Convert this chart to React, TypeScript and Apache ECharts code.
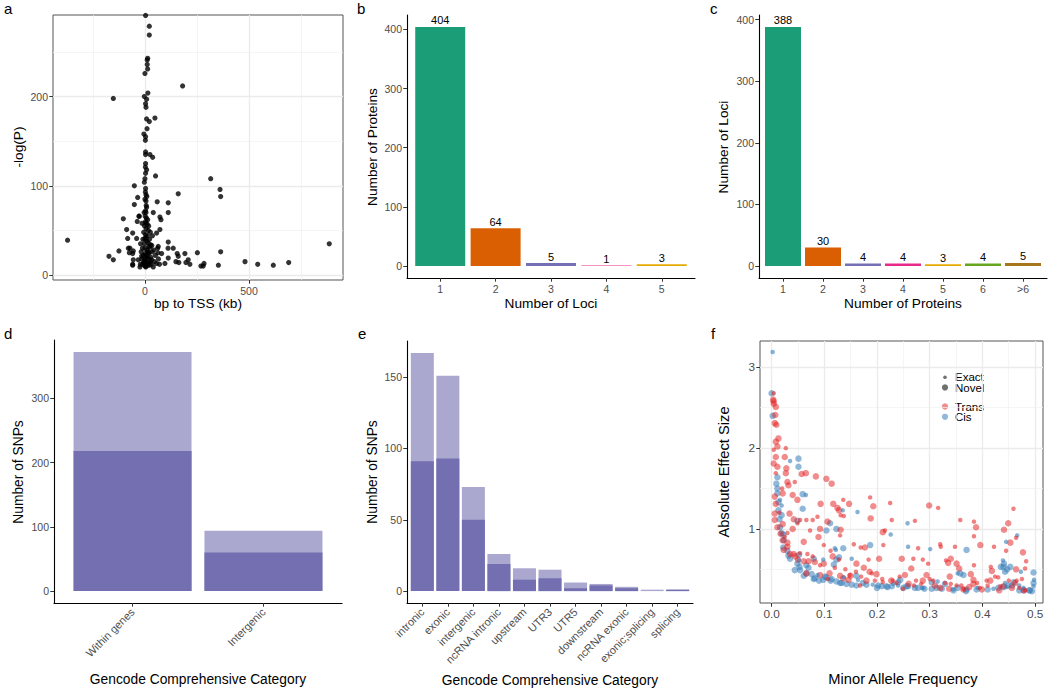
import React, { useEffect, useRef } from 'react';
import * as echarts from 'echarts';

const FONT = '"Liberation Sans", Arial, Helvetica, sans-serif';

// ---------- Panel a: distance to TSS (kb) vs -log(P) ----------
const tssPoints: number[][] = [
  [3, 291], [21, 279], [21, 269], [13, 243], [11, 241], [11, 236], [13, 231], [0, 226], [181, 212], [-152, 198],
  [14, 204], [-3, 200], [8, 197], [3, 192], [5, 188], [8, 175], [48, 176], [21, 172], [10, 164], [-5, 158],
  [3, 155], [2, 151], [3, 138], [3, 135], [24, 135], [37, 132], [3, 125], [2, 121], [8, 118], [3, 114],
  [51, 111], [0, 108], [-3, 104], [316, 108], [-51, 100], [3, 97], [361, 96], [364, 88], [160, 91], [5, 90],
  [-35, 87], [-51, 79], [59, 82], [112, 81], [112, 70], [5, 83], [8, 76], [40, 70], [5, 70], [-27, 66],
  [-104, 63], [77, 62], [3, 60], [-37, 60], [-88, 51], [72, 51], [16, 50], [-59, 47], [56, 47], [-40, 41],
  [-83, 41], [3, 42], [-372, 39], [112, 37], [886, 35], [-21, 35], [27, 34], [-125, 27], [-80, 30], [136, 30],
  [111, 30], [61, 30], [364, 26], [252, 25], [192, 24], [-75, 25], [-56, 27], [-173, 21], [-152, 17], [-56, 17],
  [-59, 12], [160, 21], [149, 15], [208, 17], [216, 12], [284, 13], [269, 10], [353, 11], [481, 15], [542, 12],
  [617, 11], [691, 14], [80, 24], [112, 19], [96, 13], [56, 13], [32, 17], [21, 11], [-8, 13], [-16, 21],
  [16, 24], [-32, 17], [-24, 9], [5, 10], [40, 9], [-29, 66], [-72, 30], [-59, 24], [-59, 11], [72, 65],
  [64, 32], [163, 14], [197, 14], [280, 10], [155, 24],
  [-10, 12], [-5, 15], [0, 10], [2, 18], [5, 22], [8, 14], [10, 28], [12, 11], [15, 19], [18, 32],
  [20, 25], [-3, 35], [0, 40], [3, 45], [6, 52], [9, 38], [-6, 48], [-12, 30], [-8, 22], [25, 15],
  [28, 20], [30, 12], [35, 26], [4, 58], [7, 64], [1, 66], [-2, 55], [12, 44], [15, 36], [-15, 18],
  [22, 40], [26, 48], [3, 72], [6, 78], [0, 30], [1, 24], [-1, 16], [2, 12], [4, 9], [10, 20],
  [14, 26], [17, 14], [-18, 26], [-22, 12], [45, 15], [50, 22], [42, 28], [33, 33], [11, 57], [13, 62],
  [0, 85], [2, 93], [-4, 70], [9, 88], [36, 44], [18, 55], [-10, 40], [-14, 58], [24, 31], [65, 18],
  [70, 12], [62, 25],
];
const tssXTicks = [0, 500];
const tssYTicks = [0, 100, 200];

// ---------- Panel b: proteins by number of loci ----------
const lociCategories = ['1', '2', '3', '4', '5'];
const proteinsPerLoci = [404, 64, 5, 1, 3];

// ---------- Panel c: loci by number of proteins ----------
const proteinCategories = ['1', '2', '3', '4', '5', '6', '>6'];
const lociPerProteins = [388, 30, 4, 4, 3, 4, 5];

const barTicks = [0, 100, 200, 300, 400];
const dark2 = ['#1B9E77', '#D95F02', '#7570B3', '#E7298A', '#E6AB02', '#66A61E', '#A6761D'];

// ---------- Panel d: SNPs by broad category ----------
const broadCategories = ['Within genes', 'Intergenic'];
const broadTotal = [372, 94];
const broadDark = [218, 60];
const broadTicks = [0, 100, 200, 300];

// ---------- Panel e: SNPs by detailed category ----------
const detailCategories = ['intronic', 'exonic', 'intergenic', 'ncRNA intronic', 'upstream', 'UTR3', 'UTR5', 'downstream', 'ncRNA exonic', 'exonic;splicing', 'splicing'];
const detailTotal = [167, 151, 73, 26, 16, 15, 6, 5, 3, 1, 1];
const detailDark = [91, 93, 50, 19, 8, 9, 2, 4, 2, 0, 1];
const detailTicks = [0, 50, 100, 150];

// ---------- Panel f: MAF vs absolute effect size ----------
const cisExact: number[][] = [
  [0.002, 3.19], [0.035, 1.84], [0.065, 1.42], [0.135, 1.23], [0.163, 1.21], [0.258, 1.07], [0.226, 0.93], [0.466, 0.92],
  [0.445, 0.84], [0.259, 0.78], [0.301, 0.75], [0.152, 0.63], [0.439, 0.61], [0.473, 0.47], [0.497, 0.29], [0.016, 1.36],
  [0.019, 1.29], [0.052, 0.61], [0.137, 0.40], [0.192, 0.31], [0.391, 0.27], [0.353, 0.45], [0.315, 0.35], [0.12, 0.76],
  [0.122, 0.74], [0.098, 0.62], [0.087, 0.43], [0.24, 0.30], [0.285, 0.27], [0.443, 0.33], [0.446, 0.28], [0.47, 0.30],
  [0.164, 0.37], [0.231, 0.32], [0.288, 0.27], [0.345, 0.25], [0.421, 0.26], [0.478, 0.27], [0.498, 0.37],
];
const cisNovel: number[][] = [
  [0.0, 2.68], [0.002, 2.40], [0.051, 1.87], [0.051, 1.77], [0.011, 1.64], [0.009, 1.56], [0.011, 1.50], [0.059, 1.43],
  [0.013, 1.33], [0.059, 1.25], [0.019, 1.17], [0.049, 1.10], [0.111, 1.07], [0.104, 0.98], [0.123, 1.00], [0.187, 0.80],
  [0.022, 0.93], [0.023, 0.86], [0.022, 0.77], [0.030, 0.73], [0.032, 0.67], [0.035, 0.63], [0.049, 0.57], [0.053, 0.53],
  [0.066, 0.55], [0.080, 0.63], [0.136, 0.76], [0.370, 0.74], [0.435, 0.53], [0.453, 0.53], [0.447, 0.50], [0.441, 0.57],
  [0.443, 0.47], [0.052, 0.68], [0.054, 0.49], [0.011, 1.44], [0.013, 1.23], [0.015, 1.12], [0.016, 1.02], [0.019, 0.95],
  [0.098, 0.37], [0.104, 0.40], [0.112, 0.36], [0.114, 0.38], [0.123, 0.35], [0.133, 0.33], [0.142, 0.32], [0.152, 0.31],
  [0.161, 0.30], [0.161, 0.42], [0.173, 0.33], [0.209, 0.29], [0.228, 0.29], [0.244, 0.37], [0.259, 0.29], [0.278, 0.27],
  [0.304, 0.34], [0.313, 0.27], [0.329, 0.32], [0.353, 0.27], [0.369, 0.23], [0.440, 0.28], [0.456, 0.30], [0.470, 0.24],
  [0.489, 0.24], [0.494, 0.23], [0.497, 0.33], [0.076, 0.44], [0.101, 0.41], [0.118, 0.56], [0.123, 0.62], [0.128, 0.65],
  [0.061, 0.42], [0.044, 0.49], [0.08, 0.38], [0.09, 0.36], [0.07, 0.52], [0.20, 0.27], [0.22, 0.28], [0.29, 0.26],
  [0.345, 0.24], [0.41, 0.25], [0.43, 0.27], [0.478, 0.24], [0.25, 0.27],
  [0.066, 0.45], [0.082, 0.39], [0.130, 0.33], [0.180, 0.31], [0.202, 0.30], [0.218, 0.29], [0.240, 0.34], [0.256, 0.29],
  [0.272, 0.27], [0.304, 0.26], [0.323, 0.26], [0.358, 0.45], [0.364, 0.43], [0.370, 0.25], [0.389, 0.25], [0.440, 0.53],
  [0.449, 0.30], [0.459, 0.34], [0.497, 0.46], [0.490, 0.24],
];
const transNovel: number[][] = [
  [0.003, 2.60], [0.004, 2.58], [0.004, 2.55], [0.008, 2.51], [0.007, 2.41], [0.006, 2.31], [0.009, 2.29], [0.013, 2.12],
  [0.008, 2.08], [0.011, 2.02], [0.008, 1.89], [0.025, 1.89], [0.004, 1.81], [0.011, 1.77], [0.028, 1.75], [0.027, 1.69],
  [0.057, 1.68], [0.065, 1.69], [0.084, 1.65], [0.104, 1.62], [0.114, 1.56], [0.030, 1.58], [0.032, 1.54], [0.021, 1.44],
  [0.040, 1.42], [0.006, 1.40], [0.049, 1.36], [0.008, 1.31], [0.093, 1.31], [0.117, 1.31], [0.147, 1.31], [0.193, 1.28],
  [0.299, 1.29], [0.125, 1.26], [0.128, 1.23], [0.006, 1.19], [0.034, 1.19], [0.006, 1.11], [0.042, 1.12], [0.188, 1.13],
  [0.021, 1.06], [0.106, 1.09], [0.449, 1.07], [0.011, 1.02], [0.040, 1.00], [0.092, 1.00], [0.131, 0.99], [0.211, 0.96],
  [0.388, 1.02], [0.441, 0.99], [0.017, 0.94], [0.021, 0.86], [0.030, 0.83], [0.061, 0.84], [0.089, 0.90], [0.453, 0.83],
  [0.035, 0.69], [0.042, 0.69], [0.061, 0.60], [0.082, 0.59], [0.099, 0.57], [0.116, 0.66], [0.161, 0.57], [0.175, 0.52],
  [0.204, 0.63], [0.177, 0.77], [0.247, 0.63], [0.335, 0.58], [0.340, 0.63], [0.351, 0.57], [0.356, 0.51], [0.378, 0.44],
  [0.396, 0.80], [0.477, 0.71], [0.464, 0.50], [0.066, 0.45], [0.092, 0.43], [0.146, 0.37], [0.199, 0.44], [0.253, 0.43],
  [0.287, 0.36], [0.337, 0.26], [0.364, 0.25], [0.375, 0.28], [0.383, 0.37], [0.399, 0.25], [0.415, 0.36], [0.432, 0.24],
  [0.462, 0.33], [0.479, 0.24], [0.023, 0.74], [0.03, 0.78], [0.045, 0.66], [0.05, 0.62], [0.07, 0.60], [0.11, 0.45],
  [0.13, 0.42], [0.15, 0.42], [0.18, 0.36], [0.26, 0.32], [0.31, 0.30], [0.44, 0.29],
  [0.136, 0.39], [0.186, 0.47], [0.227, 0.36], [0.265, 0.51], [0.294, 0.43], [0.320, 0.27], [0.338, 0.41], [0.383, 0.32],
  [0.418, 0.48], [0.456, 0.27],
];
const transExact: number[][] = [
  [0.004, 2.68], [0.027, 2.00], [0.004, 1.98], [0.008, 1.69], [0.044, 1.58], [0.136, 1.36], [0.187, 1.39], [0.225, 1.32],
  [0.316, 1.26], [0.459, 1.25], [0.131, 1.17], [0.137, 1.16], [0.054, 1.11], [0.066, 1.11], [0.078, 1.11], [0.087, 1.15],
  [0.049, 1.07], [0.228, 1.11], [0.272, 1.10], [0.358, 1.11], [0.384, 1.09], [0.073, 0.98], [0.130, 0.92], [0.215, 0.98],
  [0.384, 0.91], [0.464, 0.89], [0.099, 0.80], [0.156, 0.81], [0.169, 0.77], [0.212, 0.80], [0.278, 0.76], [0.320, 0.81],
  [0.321, 0.78], [0.348, 0.78], [0.422, 0.78], [0.445, 0.73], [0.483, 0.60], [0.078, 0.66], [0.112, 0.73], [0.128, 0.62],
  [0.184, 0.62], [0.269, 0.63], [0.287, 0.62], [0.297, 0.57], [0.331, 0.61], [0.384, 0.55], [0.416, 0.53], [0.481, 0.51],
  [0.475, 0.38], [0.237, 0.33], [0.168, 0.30], [0.107, 0.38], [0.054, 0.70], [0.068, 0.69], [0.092, 0.55], [0.12, 0.52],
  [0.14, 0.50], [0.16, 0.47], [0.19, 0.45], [0.21, 0.38], [0.23, 0.36], [0.27, 0.30], [0.30, 0.38], [0.34, 0.32],
  [0.36, 0.30], [0.39, 0.33], [0.41, 0.30], [0.43, 0.40], [0.45, 0.36], [0.47, 0.27], [0.025, 0.90], [0.03, 0.95],
  [0.015, 1.20], [0.02, 1.50],
  [0.148, 0.43], [0.170, 0.41], [0.196, 0.36], [0.211, 0.34], [0.243, 0.41], [0.249, 0.26], [0.274, 0.36], [0.284, 0.32],
  [0.307, 0.36], [0.329, 0.33], [0.351, 0.30], [0.364, 0.26], [0.395, 0.27], [0.408, 0.36], [0.424, 0.41], [0.434, 0.29],
  [0.465, 0.36], [0.481, 0.24],
];
const mafTicks = [0, 0.1, 0.2, 0.3, 0.4, 0.5];
const mafMinor = [0.05, 0.15, 0.25, 0.35, 0.45];
const esTicks = [1, 2, 3];
const esMinor = [0.5, 1.5, 2.5];

const TICK_COLOR = '#333333';
const LABEL_COLOR = '#4D4D4D';

function axis(gi: number, min: number, max: number, ticks: number[], fmt: (v: number) => string, o: any = {}) {
  return {
    type: 'value', gridIndex: gi, min, max,
    axisLine: { show: o.line !== false, onZero: false, lineStyle: { color: '#000', width: 1.1 } },
    axisTick: { show: true, length: 3.7, lineStyle: { color: TICK_COLOR, width: 1 }, customValues: ticks },
    axisLabel: {
      customValues: ticks, formatter: fmt, color: LABEL_COLOR, fontSize: o.fs ?? 10.5,
      fontFamily: FONT, margin: o.margin ?? 5, rotate: o.rotate ?? 0,
    },
    splitLine: { show: false },
  };
}

function gridLines(gi: number, xMajor: number[], xMinor: number[], yMajor: number[], yMinor: number[]) {
  const major = { color: '#EBEBEB', width: 1.3, type: 'solid' };
  const minor = { color: '#F0F0F0', width: 0.7, type: 'solid' };
  const data: any[] = [];
  xMinor.forEach((v) => data.push({ xAxis: v, lineStyle: minor }));
  yMinor.forEach((v) => data.push({ yAxis: v, lineStyle: minor }));
  xMajor.forEach((v) => data.push({ xAxis: v, lineStyle: major }));
  yMajor.forEach((v) => data.push({ yAxis: v, lineStyle: major }));
  return {
    type: 'scatter', xAxisIndex: gi, yAxisIndex: gi, data: [], silent: true, z: 1,
    markLine: { silent: true, z: 1, symbol: ['none', 'none'], label: { show: false }, animation: false, data },
  };
}

function text(t: string, x: number, y: number, size: number, o: any = {}) {
  return {
    type: 'text', x, y, rotation: o.rot ?? 0, silent: true,
    style: {
      text: t, x: 0, y: 0, fill: o.color ?? '#000', fontSize: size, fontFamily: FONT,
      align: o.align ?? 'center', verticalAlign: 'middle',
    },
  };
}

export default function App() {
  const ref = useRef<HTMLDivElement>(null);
  useEffect(() => {
    document.body.style.margin = '0';
    if (!ref.current) return;
    const chart = echarts.init(ref.current, undefined, { renderer: 'svg' });
    const catFmt = (cats: string[]) => (v: number) => cats[Math.round(v) - 1] ?? '';
    const numFmt = (v: number) => String(v);
    const barLabel = {
      show: true, position: 'top', distance: 1, color: '#000', fontSize: 11, fontFamily: FONT,
      formatter: (p: any) => String(p.value[1]),
    };
    const option: any = {
      animation: false,
      backgroundColor: '#fff',
      grid: [
        { left: 53, top: 15, width: 290, height: 265, show: true, borderColor: '#555', borderWidth: 1, backgroundColor: 'transparent' },
        { left: 407, top: 15, width: 288, height: 263 },
        { left: 759, top: 15, width: 288, height: 263 },
        { left: 54, top: 340, width: 288, height: 263 },
        { left: 407, top: 341, width: 286, height: 262 },
        { left: 760, top: 341, width: 283, height: 262, show: true, borderColor: '#555', borderWidth: 1, backgroundColor: 'transparent' },
      ],
      xAxis: [
        axis(0, -442, 952, tssXTicks, numFmt, { line: false }),
        axis(1, 0.4, 5.6, lociCategories.map((_, i) => i + 1), catFmt(lociCategories)),
        axis(2, 0.4, 7.6, proteinCategories.map((_, i) => i + 1), catFmt(proteinCategories)),
        axis(3, 0.4, 2.6, broadCategories.map((_, i) => i + 1), catFmt(broadCategories), { rotate: 45, margin: 7, fs: 11 }),
        axis(4, 0.4, 11.6, detailCategories.map((_, i) => i + 1), catFmt(detailCategories), { rotate: 45, margin: 7, fs: 11 }),
        axis(5, -0.022, 0.515, mafTicks, (v: number) => v.toFixed(1), { line: false, fs: 11.8 }),
      ],
      yAxis: [
        axis(0, -5.6, 291.5, tssYTicks, numFmt, { line: false }),
        axis(1, -20.2, 424.2, barTicks, numFmt),
        axis(2, -19.4, 407.4, barTicks, numFmt),
        axis(3, -18.6, 390.6, broadTicks, numFmt),
        axis(4, -8.35, 175.35, detailTicks, numFmt),
        axis(5, 0.083, 3.326, esTicks, numFmt, { line: false, fs: 11.8 }),
      ],
      series: [
        gridLines(0, [0, 500], [-250, 250, 750], [0, 100, 200], [50, 150, 250]),
        {
          type: 'scatter', xAxisIndex: 0, yAxisIndex: 0, data: tssPoints, symbolSize: 5.2, z: 3,
          itemStyle: { color: '#000' },
        },
        {
          type: 'bar', xAxisIndex: 1, yAxisIndex: 1, barWidth: 50,
          data: proteinsPerLoci.map((v, i) => ({ value: [i + 1, v], itemStyle: { color: dark2[i] } })),
          label: barLabel,
        },
        {
          type: 'bar', xAxisIndex: 2, yAxisIndex: 2, barWidth: 36,
          data: lociPerProteins.map((v, i) => ({ value: [i + 1, v], itemStyle: { color: dark2[i] } })),
          label: barLabel,
        },
        {
          type: 'bar', xAxisIndex: 3, yAxisIndex: 3, barWidth: 118, barGap: '-100%',
          data: broadTotal.map((v, i) => [i + 1, v]), itemStyle: { color: '#AAA8CF' },
        },
        {
          type: 'bar', xAxisIndex: 3, yAxisIndex: 3, barWidth: 118, barGap: '-100%',
          data: broadDark.map((v, i) => [i + 1, v]), itemStyle: { color: '#746FB0' },
        },
        {
          type: 'bar', xAxisIndex: 4, yAxisIndex: 4, barWidth: 23, barGap: '-100%',
          data: detailTotal.map((v, i) => [i + 1, v]), itemStyle: { color: '#AAA8CF' },
        },
        {
          type: 'bar', xAxisIndex: 4, yAxisIndex: 4, barWidth: 23, barGap: '-100%',
          data: detailDark.map((v, i) => [i + 1, v]), itemStyle: { color: '#746FB0' },
        },
        gridLines(5, mafTicks, mafMinor, esTicks, esMinor),
        {
          type: 'scatter', xAxisIndex: 5, yAxisIndex: 5, data: cisNovel, symbolSize: 6.5, z: 3,
          itemStyle: { color: '#377EB8', opacity: 0.55 },
        },
        {
          type: 'scatter', xAxisIndex: 5, yAxisIndex: 5, data: transNovel, symbolSize: 6.5, z: 3,
          itemStyle: { color: '#E41A1C', opacity: 0.5 },
        },
        {
          type: 'scatter', xAxisIndex: 5, yAxisIndex: 5, data: cisExact, symbolSize: 4.5, z: 3,
          itemStyle: { color: '#377EB8', opacity: 0.6 },
        },
        {
          type: 'scatter', xAxisIndex: 5, yAxisIndex: 5, data: transExact, symbolSize: 4.5, z: 3,
          itemStyle: { color: '#E41A1C', opacity: 0.55 },
        },
      ],
      graphic: [
        text('a', 4, 8, 15, { align: 'left' }),
        text('b', 357, 8, 15, { align: 'left' }),
        text('c', 710, 8, 15, { align: 'left' }),
        text('d', 4, 333, 15, { align: 'left' }),
        text('e', 358, 333, 15, { align: 'left' }),
        text('f', 711, 333, 15, { align: 'left' }),
        text('bp to TSS (kb)', 198, 303, 13.7),
        text('-log(P)', 18, 147, 13.7, { rot: Math.PI / 2 }),
        text('Number of Loci', 551, 303, 13.7),
        text('Number of Proteins', 372, 147, 13.7, { rot: Math.PI / 2 }),
        text('Number of Proteins', 903, 303, 13.7),
        text('Number of Loci', 723, 147, 13.7, { rot: Math.PI / 2 }),
        text('Gencode Comprehensive Category', 198, 679, 13.8),
        text('Number of SNPs', 18, 472, 13.8, { rot: Math.PI / 2 }),
        text('Gencode Comprehensive Category', 550, 680, 13.8),
        text('Number of SNPs', 372, 472, 13.8, { rot: Math.PI / 2 }),
        text('Minor Allele Frequency', 903, 679, 14.7),
        text('Absolute Effect Size', 724, 472, 14.7, { rot: Math.PI / 2 }),
        { type: 'circle', shape: { cx: 945, cy: 377.3, r: 1.8 }, style: { fill: '#333', opacity: 0.7 }, silent: true },
        { type: 'circle', shape: { cx: 945, cy: 387.5, r: 3.1 }, style: { fill: '#333', opacity: 0.7 }, silent: true },
        { type: 'circle', shape: { cx: 945, cy: 406.5, r: 3.1 }, style: { fill: '#E41A1C', opacity: 0.5 }, silent: true },
        { type: 'circle', shape: { cx: 945, cy: 416.8, r: 3.1 }, style: { fill: '#377EB8', opacity: 0.55 }, silent: true },
        text('Exact', 955, 377.3, 11.5, { align: 'left' }),
        text('Novel', 955, 387.5, 11.5, { align: 'left' }),
        text('Trans', 955, 406.5, 11.5, { align: 'left' }),
        text('Cis', 955, 416.8, 11.5, { align: 'left' }),
      ],
    };
    chart.setOption(option);
    return () => chart.dispose();
  }, []);
  return <div ref={ref} style={{ width: 1050, height: 691 }} />;
}
